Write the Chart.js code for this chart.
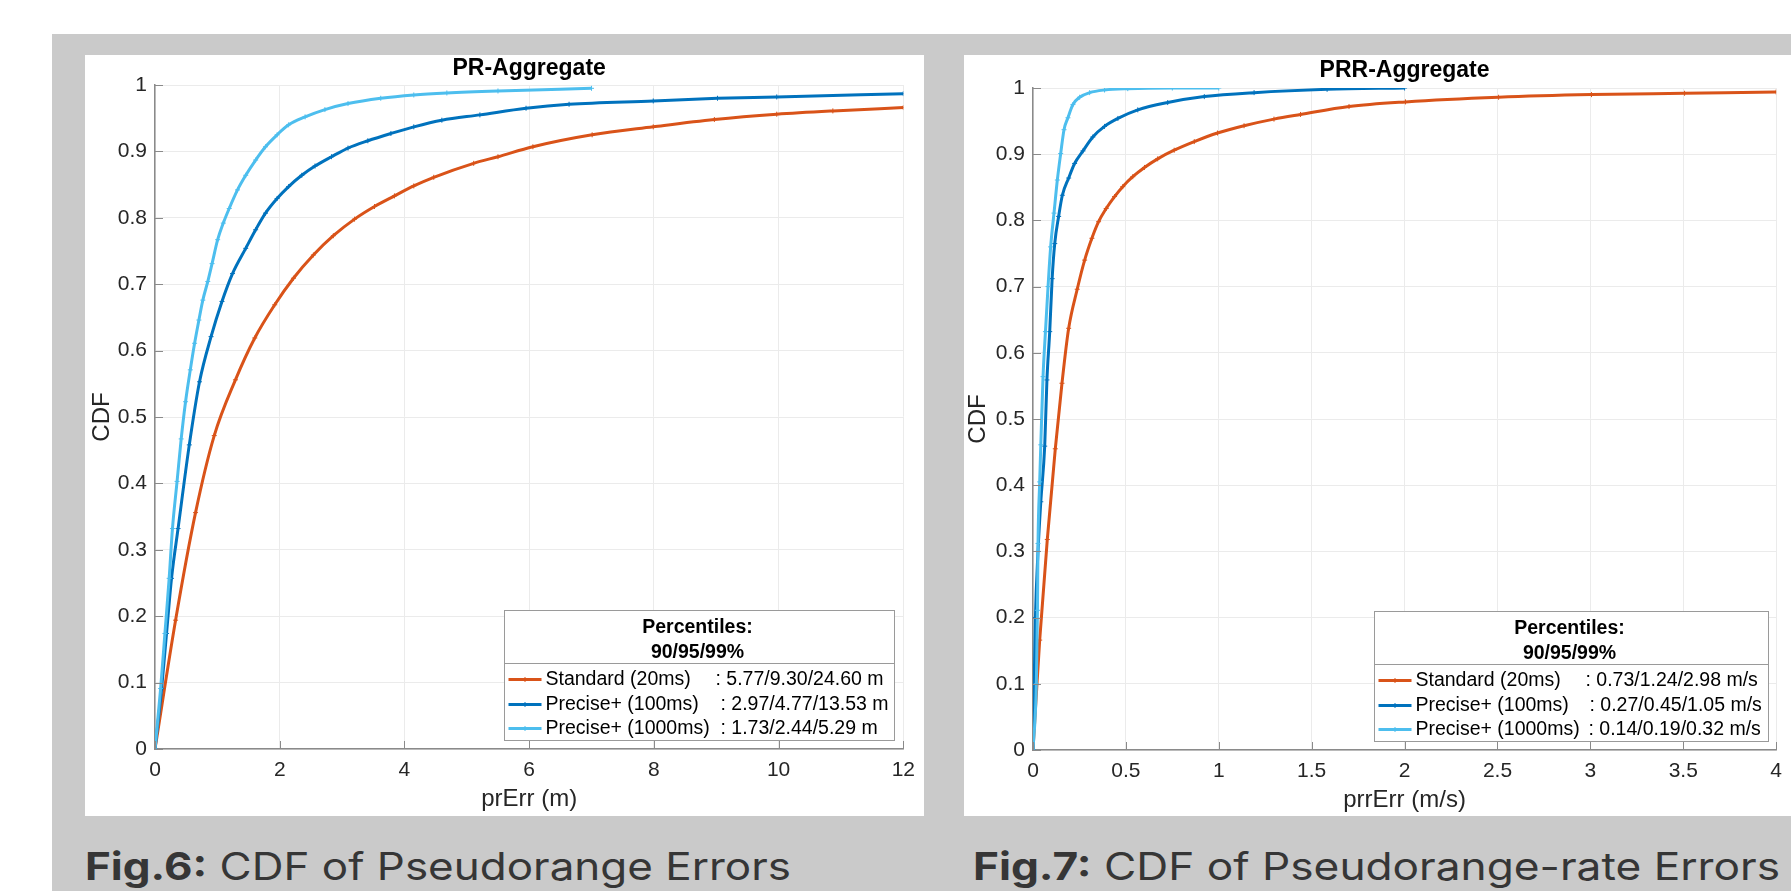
<!DOCTYPE html>
<html>
<head>
<meta charset="utf-8">
<script src="https://cdn.jsdelivr.net/npm/chart.js@4.4.1/dist/chart.umd.min.js"></script>
<style>
    body { margin: 0; width: 1791px; height: 891px; background: #fff; position: relative; overflow: hidden; }
    .bg { position: absolute; left: 52px; top: 34px; right: 0; bottom: 0; background: #cacaca; }
    .panel { position: absolute; top: 55px; height: 761px; background: #fff; }
    #p1 { left: 85px; width: 839px; }
    #p2 { left: 964px; width: 827px; }
    .cap { position: absolute; top: 847px; font-family: Inter, "Open Sans", sans-serif; font-size: 38px; line-height: 1; color: #363636; white-space: nowrap; transform-origin: 0 0; }
    .cap b { font-weight: 700; }
    #c1 { left: 85px; }
    #c2 { left: 973px; }
</style>
</head>
<body>
<div class="bg"></div>
<div class="panel" id="p1"><canvas id="prChart" width="839" height="761"></canvas></div>
<div class="panel" id="p2"><canvas id="prrChart" width="827" height="761"></canvas></div>
<div class="cap" id="c1"><b>Fig.6:</b> CDF of Pseudorange Errors</div>
<div class="cap" id="c2"><b>Fig.7:</b> CDF of Pseudorange-rate Errors</div>

<script>
// series names and percentile text
const seriesNames = ["Standard (20ms)", "Precise+ (100ms)", "Precise+ (1000ms)"];
const prPercentiles = ["5.77/9.30/24.60 m", "2.97/4.77/13.53 m", "1.73/2.44/5.29 m"];
const prrPercentiles = ["0.73/1.24/2.98 m/s", "0.27/0.45/1.05 m/s", "0.14/0.19/0.32 m/s"];

// tick values
const cdfTicks = [0, 0.1, 0.2, 0.3, 0.4, 0.5, 0.6, 0.7, 0.8, 0.9, 1];
const prXTicks = [0, 2, 4, 6, 8, 10, 12];
const prrXTicks = [0, 0.5, 1, 1.5, 2, 2.5, 3, 3.5, 4];

// PR-Aggregate (prErr in m)
const prStdX = [0, 0.33, 0.65, 0.95, 1.29, 1.6, 1.92, 2.22, 2.54, 2.86, 3.2, 3.52, 3.84, 4.15, 4.47, 5.11, 5.5, 6.06, 7.01, 7.99, 8.97, 9.97, 10.87, 12];
const prStdY = [0, 0.194, 0.356, 0.472, 0.556, 0.619, 0.669, 0.709, 0.744, 0.773, 0.798, 0.817, 0.833, 0.848, 0.861, 0.882, 0.892, 0.907, 0.925, 0.937, 0.948, 0.956, 0.961, 0.966];
const prP100X = [0, 0.106, 0.185, 0.265, 0.37, 0.55, 0.714, 0.899, 1.074, 1.243, 1.455, 1.614, 1.772, 1.958, 2.143, 2.354, 2.566, 2.831, 3.095, 3.413, 3.783, 4.15, 4.6, 5.21, 5.95, 6.64, 7.99, 9.02, 9.97, 12];
const prP100Y = [0, 0.091, 0.174, 0.257, 0.332, 0.458, 0.553, 0.621, 0.674, 0.716, 0.754, 0.782, 0.807, 0.829, 0.847, 0.864, 0.878, 0.892, 0.905, 0.916, 0.927, 0.937, 0.947, 0.955, 0.965, 0.971, 0.976, 0.98, 0.982, 0.987];
const prP1000X = [0, 0.09, 0.159, 0.227, 0.28, 0.354, 0.42, 0.49, 0.566, 0.635, 0.704, 0.767, 0.846, 0.915, 1.005, 1.095, 1.19, 1.323, 1.455, 1.614, 1.772, 1.958, 2.143, 2.407, 2.725, 3.095, 3.62, 4.15, 4.68, 5.5, 7.0];
const prP1000Y = [0, 0.091, 0.174, 0.257, 0.332, 0.403, 0.467, 0.523, 0.571, 0.611, 0.646, 0.676, 0.704, 0.731, 0.767, 0.792, 0.814, 0.842, 0.864, 0.887, 0.907, 0.925, 0.94, 0.952, 0.963, 0.972, 0.98, 0.985, 0.988, 0.991, 0.995];

// PRR-Aggregate (prrErr in m/s)
const prrStdX = [0, 0.036, 0.077, 0.12, 0.156, 0.192, 0.238, 0.278, 0.317, 0.353, 0.394, 0.439, 0.483, 0.537, 0.6, 0.671, 0.76, 0.868, 0.993, 1.136, 1.297, 1.44, 1.701, 2.005, 2.506, 3.006, 3.507, 4.0];
const prrStdY = [0, 0.166, 0.318, 0.455, 0.554, 0.637, 0.696, 0.74, 0.773, 0.798, 0.818, 0.836, 0.851, 0.866, 0.88, 0.893, 0.906, 0.919, 0.932, 0.943, 0.953, 0.96, 0.972, 0.979, 0.986, 0.99, 0.992, 0.994];
const prrP100X = [0, 0.013, 0.027, 0.042, 0.063, 0.075, 0.09, 0.103, 0.117, 0.138, 0.158, 0.192, 0.224, 0.269, 0.322, 0.385, 0.457, 0.564, 0.725, 0.922, 1.19, 1.583, 2.0];
const prrP100Y = [0, 0.2, 0.3, 0.375, 0.459, 0.559, 0.632, 0.712, 0.765, 0.806, 0.838, 0.864, 0.886, 0.905, 0.926, 0.942, 0.954, 0.967, 0.978, 0.987, 0.993, 0.998, 1.0];
const prrP1000X = [0, 0.018, 0.024, 0.027, 0.036, 0.042, 0.054, 0.067, 0.081, 0.095, 0.113, 0.131, 0.149, 0.167, 0.188, 0.215, 0.251, 0.305, 0.385, 0.51, 0.75, 1.0];
const prrP1000Y = [0, 0.1, 0.211, 0.312, 0.405, 0.461, 0.564, 0.632, 0.7, 0.76, 0.811, 0.861, 0.901, 0.937, 0.955, 0.975, 0.986, 0.993, 0.997, 0.999, 1.0, 1.0];

const colors = ["#D95319", "#0072BD", "#4DBEEE"];
const FONT = "'Liberation Sans', Arial, Helvetica, sans-serif";

function pts(xs, ys) {
    return xs.map((x, i) => ({ x: x, y: ys[i] }));
}

// inward ticks, title, and percentile legend box (matlab style)
const decor = {
    id: "decor",
    afterDraw(chart, args, o) {
        const ctx = chart.ctx;
        const a = chart.chartArea;
        const sx = chart.scales.x, sy = chart.scales.y;
        ctx.save();

        ctx.strokeStyle = "#8a8a8a";
        ctx.lineWidth = 1;
        ctx.beginPath();
        sx.ticks.forEach(t => {
            const px = Math.round(sx.getPixelForValue(t.value)) + 0.5;
            ctx.moveTo(px, a.bottom);
            ctx.lineTo(px, a.bottom - 8);
        });
        sy.ticks.forEach(t => {
            const py = Math.round(sy.getPixelForValue(t.value)) + 0.5;
            ctx.moveTo(a.left, py);
            ctx.lineTo(a.left + 8, py);
        });
        ctx.stroke();

        ctx.fillStyle = "#000";
        ctx.font = "bold 23px " + FONT;
        ctx.textAlign = "center";
        ctx.textBaseline = "middle";
        ctx.fillText(o.title, (a.left + a.right) / 2, a.top - o.titleGap);

        // legend
        const w = o.boxW, h = 130;
        const bx = Math.round(a.right - o.inset - w) + 0.5;
        const by = Math.round(a.bottom - 9 - h) + 0.5;
        ctx.fillStyle = "#fff";
        ctx.fillRect(bx, by, w, h);
        ctx.strokeStyle = "#9a9a9a";
        ctx.lineWidth = 1;
        ctx.strokeRect(bx, by, w, h);
        ctx.beginPath();
        ctx.moveTo(bx, by + 53);
        ctx.lineTo(bx + w, by + 53);
        ctx.stroke();

        ctx.fillStyle = "#000";
        ctx.font = "bold 19.5px " + FONT;
        ctx.fillText("Percentiles:", bx + w / 2 - 2, by + 17);
        ctx.fillText("90/95/99%", bx + w / 2 - 2, by + 42);

        ctx.font = "19.5px " + FONT;
        ctx.textAlign = "left";
        const rows = [69, 94, 118];
        seriesNames.forEach((name, i) => {
            const ry = by + rows[i];
            ctx.strokeStyle = colors[i];
            ctx.lineWidth = 3;
            ctx.beginPath();
            ctx.moveTo(bx + 4, ry);
            ctx.lineTo(bx + 37, ry);
            ctx.stroke();
            ctx.lineWidth = 1;
            ctx.beginPath();
            ctx.moveTo(bx + 20.5, ry - 2.5);
            ctx.lineTo(bx + 20.5, ry + 2.5);
            ctx.stroke();
            ctx.fillStyle = "#000";
            ctx.fillText(name, bx + 41, ry);
            ctx.fillText(": " + o.values[i], bx + o.colonX[i], ry);
        });
        ctx.restore();
    }
};

function makeChart(id, cfg) {
    const datasets = cfg.series.map((s, i) => ({
        label: seriesNames[i],
        data: pts(s[0], s[1]),
        borderColor: colors[i],
        backgroundColor: colors[i],
        borderWidth: 3,
        pointStyle: "cross",
        pointRadius: 2.5,
        pointBorderWidth: 1,
        cubicInterpolationMode: "monotone",
        showLine: true,
        order: 3 - i
    }));
    return new Chart(document.getElementById(id), {
        type: "scatter",
        data: { datasets: datasets },
        plugins: [decor],
        options: {
            responsive: false,
            animation: false,
            events: [],
            layout: { padding: { top: cfg.top, right: cfg.right, left: 0, bottom: 0 } },
            plugins: {
                legend: { display: false },
                tooltip: { enabled: false },
                decor: cfg.decor
            },
            scales: {
                x: {
                    type: "linear",
                    min: 0,
                    max: cfg.xTicks[cfg.xTicks.length - 1],
                    afterBuildTicks: s => { s.ticks = cfg.xTicks.map(v => ({ value: v })); },
                    afterFit: s => { s.height = cfg.xH; },
                    grid: { color: "#ebebeb", drawTicks: false },
                    border: { color: "#8a8a8a", width: 1.5 },
                    ticks: { padding: 9, color: "#262626", font: { family: FONT, size: 21 }, maxRotation: 0, autoSkip: false, callback: v => String(v) },
                    title: { display: true, text: cfg.xTitle, color: "#262626", font: { family: FONT, size: 24 }, padding: { top: 0, bottom: cfg.xTitlePad } }
                },
                y: {
                    type: "linear",
                    min: 0,
                    max: 1,
                    afterBuildTicks: s => { s.ticks = cdfTicks.map(v => ({ value: v })); },
                    afterFit: s => { s.width = cfg.yW; },
                    grid: { color: "#ebebeb", drawTicks: false },
                    border: { color: "#8a8a8a", width: 1.5 },
                    ticks: { padding: 8, color: "#262626", font: { family: FONT, size: 21 }, callback: v => String(v) },
                    title: { display: true, text: "CDF", color: "#262626", font: { family: FONT, size: 24 }, padding: { top: cfg.yTitlePad, bottom: 0 } }
                }
            }
        }
    });
}

makeChart("prChart", {
    series: [[prStdX, prStdY], [prP100X, prP100Y], [prP1000X, prP1000Y]],
    xTicks: prXTicks,
    xTitle: "prErr (m)",
    top: 30, right: 13, xH: 67, yW: 70, xTitlePad: 2, yTitlePad: 3,
    decor: { title: "PR-Aggregate", titleGap: 16, boxW: 390, inset: 9, values: prPercentiles, colonX: [211, 216, 216] }
});

makeChart("prrChart", {
    series: [[prrStdX, prrStdY], [prrP100X, prrP100Y], [prrP1000X, prrP1000Y]],
    xTicks: prrXTicks,
    xTitle: "prrErr (m/s)",
    top: 33, right: 12.5, xH: 66, yW: 69, xTitlePad: 1, yTitlePad: 0,
    decor: { title: "PRR-Aggregate", titleGap: 17.5, boxW: 394, inset: 8, values: prrPercentiles, colonX: [211, 215, 214] }
});

// the captions in the reference use a wide face; stretch to the same width
[["c1", 706], ["c2", 807]].forEach(([id, target]) => {
    const el = document.getElementById(id);
    const w = el.getBoundingClientRect().width;
    el.style.transform = "scaleX(" + (target / w) + ")";
});
</script>
</body>
</html>
